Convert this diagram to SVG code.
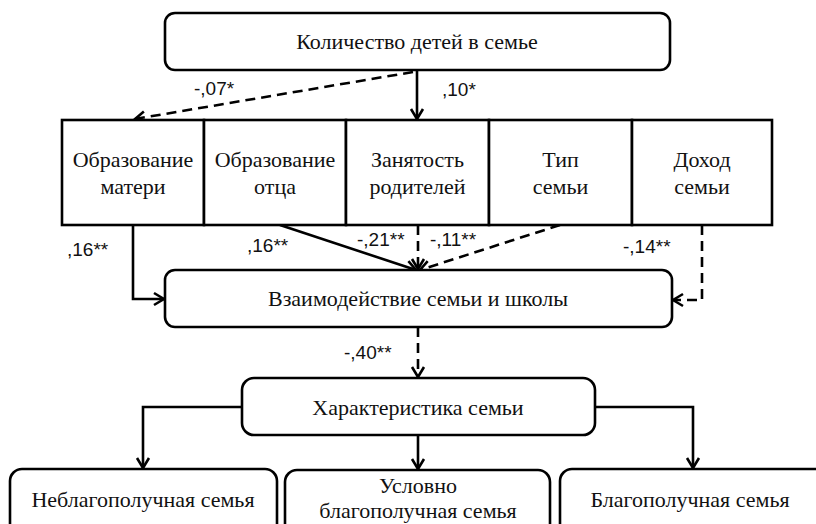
<svg xmlns="http://www.w3.org/2000/svg" width="816" height="524" viewBox="0 0 816 524">
<style>
.box{fill:#fff;stroke:#000;stroke-width:2.6}
.t{font-family:"Liberation Serif","Times New Roman",serif;font-size:22px;fill:#111;text-anchor:middle}
.l{font-family:"Liberation Sans",Arial,sans-serif;font-size:19px;fill:#111}
.c{fill:none;stroke:#000;stroke-width:2.6}
.d{stroke-dasharray:10 6}
</style>
<defs>
<marker id="arr" viewBox="-13 -8 15 16" refX="0" refY="0" markerWidth="15" markerHeight="16" markerUnits="userSpaceOnUse" orient="auto">
<path d="M-10,-6 L0,0 L-10,6" fill="none" stroke="#000" stroke-width="2.6" stroke-dasharray="none"/>
</marker>
</defs>
<rect width="816" height="524" fill="#fff"/>
<g id="connectors">
<path class="c" d="M417,70 V119" marker-end="url(#arr)"/>
<path class="c d" d="M413,72 L135,119" marker-end="url(#arr)"/>
<path class="c" d="M133,225 V299 H164" marker-end="url(#arr)"/>
<path class="c" d="M280,225 L416,270" marker-end="url(#arr)"/>
<path class="c d" d="M418,225 V269" marker-end="url(#arr)"/>
<path class="c d" d="M560,225 L420,270" marker-end="url(#arr)"/>
<path class="c d" d="M702,225 V300 H673" marker-end="url(#arr)"/>
<path class="c d" d="M418,327 V377" marker-end="url(#arr)"/>
<path class="c" d="M242,407 H143 V468" marker-end="url(#arr)"/>
<path class="c" d="M418,435 V469" marker-end="url(#arr)"/>
<path class="c" d="M595,407 H693 V468" marker-end="url(#arr)"/>
<text class="l" x="442" y="96">,10*</text>
<text class="l" x="194" y="95">-,07*</text>
<text class="l" x="67" y="256">,16**</text>
<text class="l" x="247" y="252">,16**</text>
<text class="l" x="357" y="246">-,21**</text>
<text class="l" x="430" y="246">-,11**</text>
<text class="l" x="623" y="253">-,14**</text>
<text class="l" x="344" y="359">-,40**</text>
</g>
<g id="n-kolichestvo">
<rect class="box" x="165" y="13" width="505" height="57" rx="10"/>
<text class="t" x="417" y="49">Количество детей в семье</text>
</g>
<g id="n-mat">
<rect class="box" x="62" y="120" width="142" height="105"/>
<text class="t" x="133" y="167">Образование</text>
<text class="t" x="133" y="194">матери</text>
</g>
<g id="n-otec">
<rect class="box" x="204" y="120" width="142" height="105"/>
<text class="t" x="275" y="167">Образование</text>
<text class="t" x="275" y="194">отца</text>
</g>
<g id="n-zanyatost">
<rect class="box" x="346" y="120" width="143" height="105"/>
<text class="t" x="417.5" y="167">Занятость</text>
<text class="t" x="417.5" y="194">родителей</text>
</g>
<g id="n-tip">
<rect class="box" x="489" y="120" width="143" height="105"/>
<text class="t" x="560.5" y="167">Тип</text>
<text class="t" x="560.5" y="194">семьи</text>
</g>
<g id="n-dohod">
<rect class="box" x="632" y="120" width="140" height="105"/>
<text class="t" x="702" y="167">Доход</text>
<text class="t" x="702" y="194">семьи</text>
</g>
<g id="n-vzaimo">
<rect class="box" x="165" y="270" width="507" height="57" rx="10"/>
<text class="t" x="418" y="306">Взаимодействие семьи и школы</text>
</g>
<g id="n-harakt">
<rect class="box" x="242" y="378" width="353" height="57" rx="12"/>
<text class="t" x="418" y="415">Характеристика семьи</text>
</g>
<g id="n-neblag">
<rect class="box" x="10" y="469" width="267" height="70" rx="12"/>
<text class="t" x="143" y="507">Неблагополучная семья</text>
</g>
<g id="n-uslovno">
<rect class="box" x="285" y="470" width="265" height="70" rx="12"/>
<text class="t" x="418" y="493">Условно</text>
<text class="t" x="418" y="518">благополучная семья</text>
</g>
<g id="n-blag">
<rect class="box" x="560" y="469" width="270" height="70" rx="12"/>
<text class="t" x="690" y="507">Благополучная семья</text>
</g>
</svg>
